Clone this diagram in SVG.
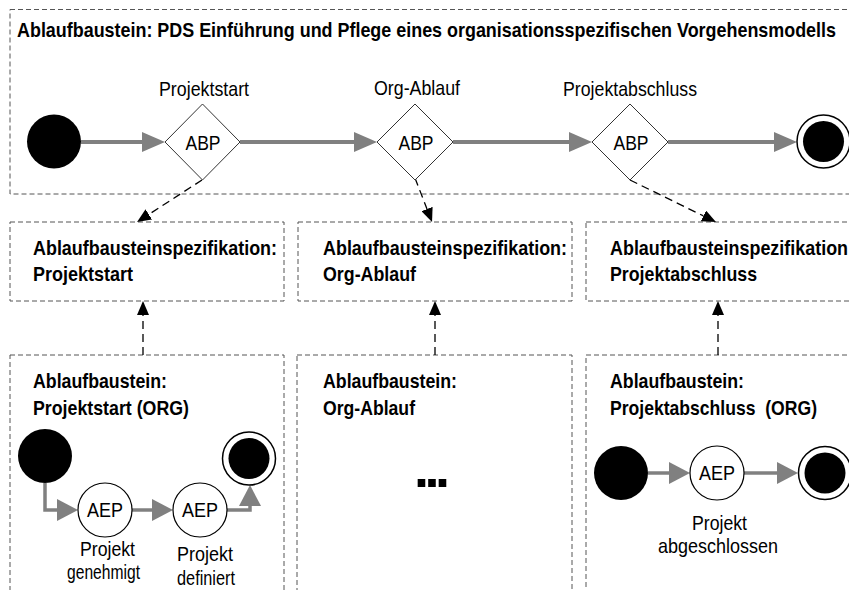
<svg xmlns="http://www.w3.org/2000/svg" width="849" height="590" viewBox="0 0 849 590">
  <style>
    .t { font-family: "Liberation Sans", Arial, sans-serif; font-size: 21px; fill: #000; }
    .b { font-weight: bold; }
    .m { text-anchor: middle; }
    .frame { fill: none; stroke: #555; stroke-width: 1; stroke-dasharray: 5 3; }
    .flow { fill: none; stroke: #808080; stroke-width: 4; }
    .flow-s { fill: none; stroke: #808080; stroke-width: 3.5; }
    .dep { fill: none; stroke: #000; stroke-width: 1.3; stroke-dasharray: 8 5; }
    .start { fill: #000; }
    .ring { fill: #fff; stroke: #000; stroke-width: 1.5; }
    .abp { fill: #fff; stroke: #333; stroke-width: 1; }
    .aep { fill: #fff; stroke: #000; stroke-width: 1.2; }
    .dots { font-family: "Liberation Sans", Arial, sans-serif; font-weight: bold; font-size: 54px; letter-spacing: -4.5px; fill: #000; }
  </style>
  <defs>
    <marker id="flowHead" markerUnits="userSpaceOnUse" markerWidth="23" markerHeight="20" refX="0" refY="10" orient="auto">
      <path d="M0,0 L23,10 L0,20 z" fill="#808080"/>
    </marker>
    <marker id="flowHeadS" markerUnits="userSpaceOnUse" markerWidth="21" markerHeight="22" refX="0" refY="11" orient="auto">
      <path d="M0,0 L21,11 L0,22 z" fill="#808080"/>
    </marker>
    <marker id="depHead" markerUnits="userSpaceOnUse" markerWidth="14" markerHeight="12" refX="0" refY="6" orient="auto">
      <path d="M0,0 L14,6 L0,12 z" fill="#000"/>
    </marker>
  </defs>

  <!-- frames -->
  <g id="frame-main">
    <rect class="frame" x="10" y="9.5" width="860" height="184.5"/>
    <text class="t b" x="17" y="37" textLength="819" lengthAdjust="spacingAndGlyphs">Ablaufbaustein: PDS Einführung und Pflege eines organisationsspezifischen Vorgehensmodells</text>
  </g>

  <g id="spec-projektstart">
    <rect class="frame" x="10" y="222" width="274" height="79"/>
    <text class="t b" x="33" y="255" textLength="244" lengthAdjust="spacingAndGlyphs">Ablaufbausteinspezifikation:</text>
    <text class="t b" x="33" y="280.5" textLength="100" lengthAdjust="spacingAndGlyphs">Projektstart</text>
  </g>
  <g id="spec-orgablauf">
    <rect class="frame" x="298" y="222" width="274" height="79"/>
    <text class="t b" x="323" y="255" textLength="244" lengthAdjust="spacingAndGlyphs">Ablaufbausteinspezifikation:</text>
    <text class="t b" x="323" y="280.5" textLength="93" lengthAdjust="spacingAndGlyphs">Org-Ablauf</text>
  </g>
  <g id="spec-projektabschluss">
    <rect class="frame" x="586" y="222" width="300" height="79"/>
    <text class="t b" x="610" y="255" textLength="244" lengthAdjust="spacingAndGlyphs">Ablaufbausteinspezifikation:</text>
    <text class="t b" x="610" y="280.5" textLength="147" lengthAdjust="spacingAndGlyphs">Projektabschluss</text>
  </g>

  <g id="block-projektstart">
    <rect class="frame" x="10" y="355" width="274" height="260"/>
    <text class="t b" x="33" y="388" textLength="134" lengthAdjust="spacingAndGlyphs">Ablaufbaustein:</text>
    <text class="t b" x="33" y="415" textLength="156" lengthAdjust="spacingAndGlyphs">Projektstart (ORG)</text>
  </g>
  <g id="block-orgablauf">
    <rect class="frame" x="297" y="355" width="275" height="260"/>
    <text class="t b" x="323" y="388" textLength="134" lengthAdjust="spacingAndGlyphs">Ablaufbaustein:</text>
    <text class="t b" x="323" y="415" textLength="92" lengthAdjust="spacingAndGlyphs">Org-Ablauf</text>
    <text class="dots" x="414" y="487">...</text>
  </g>
  <g id="block-projektabschluss">
    <rect class="frame" x="586" y="355" width="300" height="260"/>
    <text class="t b" x="610" y="388" textLength="134" lengthAdjust="spacingAndGlyphs">Ablaufbaustein:</text>
    <text class="t b" x="610" y="415" textLength="207" lengthAdjust="spacingAndGlyphs" xml:space="preserve">Projektabschluss  (ORG)</text>
  </g>

  <!-- connectors -->
  <g id="connectors">
    <path class="flow" d="M81,142 H142" marker-end="url(#flowHead)"/>
    <path class="flow" d="M240,142 H354" marker-end="url(#flowHead)"/>
    <path class="flow" d="M453,142 H569" marker-end="url(#flowHead)"/>
    <path class="flow" d="M668,142 H774" marker-end="url(#flowHead)"/>

    <path class="dep" d="M202,180 L148.8,214.4" marker-end="url(#depHead)"/>
    <path class="dep" d="M415,178 L427,209" marker-end="url(#depHead)"/>
    <path class="dep" d="M630,180 L703.4,215.9" marker-end="url(#depHead)"/>

    <path class="dep" d="M143,355 V315" marker-end="url(#depHead)"/>
    <path class="dep" d="M435,355 V315" marker-end="url(#depHead)"/>
    <path class="dep" d="M718,355 V315" marker-end="url(#depHead)"/>

    <path class="flow-s" d="M45,483 V510 H57" marker-end="url(#flowHeadS)"/>
    <path class="flow-s" d="M132,510 H152" marker-end="url(#flowHeadS)"/>
    <path class="flow-s" d="M227,510 H250 V506" marker-end="url(#flowHeadS)"/>

    <path class="flow-s" d="M648,473 H669" marker-end="url(#flowHeadS)"/>
    <path class="flow-s" d="M744,473 H777" marker-end="url(#flowHeadS)"/>
  </g>

  <!-- top-level flow -->
  <g id="main-start"><circle class="start" cx="54" cy="141.5" r="27"/></g>
  <g id="abp-projektstart">
    <polygon class="abp" points="202.5,104 240,142 202.5,180 165,142"/>
    <text class="t m" x="203" y="150" textLength="35" lengthAdjust="spacingAndGlyphs">ABP</text>
    <text class="t m" x="204" y="96" textLength="90" lengthAdjust="spacingAndGlyphs">Projektstart</text>
  </g>
  <g id="abp-orgablauf">
    <polygon class="abp" points="415,104 453,142 415,180 377,142"/>
    <text class="t m" x="416" y="150" textLength="35" lengthAdjust="spacingAndGlyphs">ABP</text>
    <text class="t m" x="417" y="95" textLength="86" lengthAdjust="spacingAndGlyphs">Org-Ablauf</text>
  </g>
  <g id="abp-projektabschluss">
    <polygon class="abp" points="630,104 668,142 630,180 592,142"/>
    <text class="t m" x="631" y="150" textLength="35" lengthAdjust="spacingAndGlyphs">ABP</text>
    <text class="t m" x="630" y="96" textLength="134" lengthAdjust="spacingAndGlyphs">Projektabschluss</text>
  </g>
  <g id="main-end">
    <circle class="ring" cx="823.5" cy="141.5" r="26.5"/>
    <circle class="start" cx="823.5" cy="141.5" r="20.5"/>
  </g>

  <!-- Projektstart (ORG) flow -->
  <g id="ps-start"><circle class="start" cx="45" cy="456" r="27"/></g>
  <g id="ps-aep-genehmigt">
    <circle class="aep" cx="105" cy="510" r="27"/>
    <text class="t m" x="105" y="517" textLength="36" lengthAdjust="spacingAndGlyphs">AEP</text>
    <text class="t m" x="107.5" y="556" textLength="55" lengthAdjust="spacingAndGlyphs">Projekt</text>
    <text class="t m" x="103.5" y="579" textLength="73" lengthAdjust="spacingAndGlyphs">genehmigt</text>
  </g>
  <g id="ps-aep-definiert">
    <circle class="aep" cx="200" cy="510" r="27"/>
    <text class="t m" x="200" y="517" textLength="36" lengthAdjust="spacingAndGlyphs">AEP</text>
    <text class="t m" x="205" y="561" textLength="56" lengthAdjust="spacingAndGlyphs">Projekt</text>
    <text class="t m" x="206" y="585" textLength="58" lengthAdjust="spacingAndGlyphs">definiert</text>
  </g>
  <g id="ps-end">
    <circle class="ring" cx="249" cy="458.5" r="26.5"/>
    <circle class="start" cx="249" cy="458.5" r="20.5"/>
  </g>

  <!-- Projektabschluss (ORG) flow -->
  <g id="pa-start"><circle class="start" cx="621" cy="473" r="27"/></g>
  <g id="pa-aep-abgeschlossen">
    <circle class="aep" cx="717" cy="473" r="27"/>
    <text class="t m" x="717" y="480" textLength="36" lengthAdjust="spacingAndGlyphs">AEP</text>
    <text class="t m" x="719.5" y="530" textLength="55" lengthAdjust="spacingAndGlyphs">Projekt</text>
    <text class="t m" x="718" y="553" textLength="120" lengthAdjust="spacingAndGlyphs">abgeschlossen</text>
  </g>
  <g id="pa-end">
    <circle class="ring" cx="825" cy="473" r="26.5"/>
    <circle class="start" cx="825" cy="473" r="20.5"/>
  </g>
</svg>
